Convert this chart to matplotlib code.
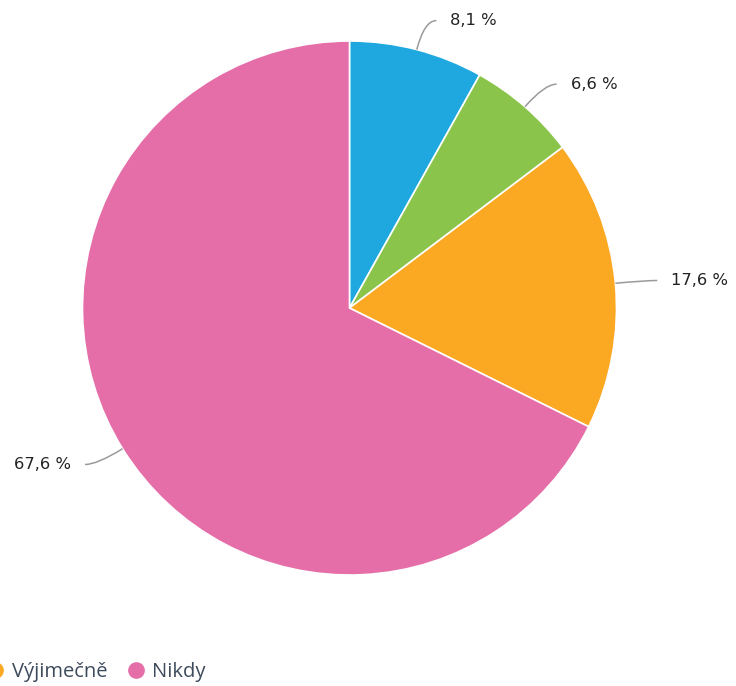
import matplotlib.pyplot as plt
from matplotlib.path import Path
from matplotlib.patches import PathPatch
from matplotlib.lines import Line2D
import numpy as np

# data
categories = ['Pravidelně', 'Občas', 'Výjimečně', 'Nikdy']
shares = [8.1, 6.6, 17.6, 67.6]
labels = ['8,1 %', '6,6 %', '17,6 %', '67,6 %']
colors = ['#1fa8e0', '#8bc44a', '#fba823', '#e56ea9']

W, H = 736, 686
fig = plt.figure(figsize=(W / 100, H / 100), dpi=100)
ax = fig.add_axes([0, 0, 1, 1])

cx, cy, r = 349.5, H - 308, 267
wedges, _ = ax.pie(shares, colors=colors, startangle=90, counterclock=False,
                   center=(cx, cy), radius=r, frame=True,
                   wedgeprops=dict(edgecolor='white', linewidth=1.2))
ax.set_xlim(0, W)
ax.set_ylim(0, H)
ax.set_aspect('equal')
ax.axis('off')

# data labels with curved connectors
total = sum(shares)
start = 0.0
for s, lab in zip(shares, labels):
    mid = 90 - 360 * (start + s / 2) / total
    start += s
    a = np.radians(mid)
    p0 = (cx + r * np.cos(a), cy + r * np.sin(a))
    p1 = (cx + (r + 30) * np.cos(a), cy + (r + 30) * np.sin(a))
    side = 1 if np.cos(a) >= 0 else -1
    p2 = (p1[0] + side * 12, p1[1])
    path = Path([p0, p1, p2], [Path.MOVETO, Path.CURVE3, Path.CURVE3])
    ax.add_patch(PathPatch(path, fill=False, edgecolor='#9a9a9a', lw=1.1))
    ax.text(p1[0] + side * 26, p1[1], lab, ha='left' if side > 0 else 'right',
            va='center', fontsize=11.8, color='#222222', family='DejaVu Sans')

handles = [Line2D([], [], marker='o', linestyle='none', markersize=11,
                  markerfacecolor=c, markeredgecolor=c) for c in colors]
leg = fig.legend(handles, categories, ncol=4, loc='center right',
                 bbox_to_anchor=(224 / W, 14 / H), frameon=False,
                 prop={'family': 'Open Sans', 'size': 14.5},
                 handlelength=0.7, handletextpad=0.45, columnspacing=1.1)
for t in leg.get_texts():
    t.set_color('#3d4a5c')

fig.savefig('out.png', dpi=100)
